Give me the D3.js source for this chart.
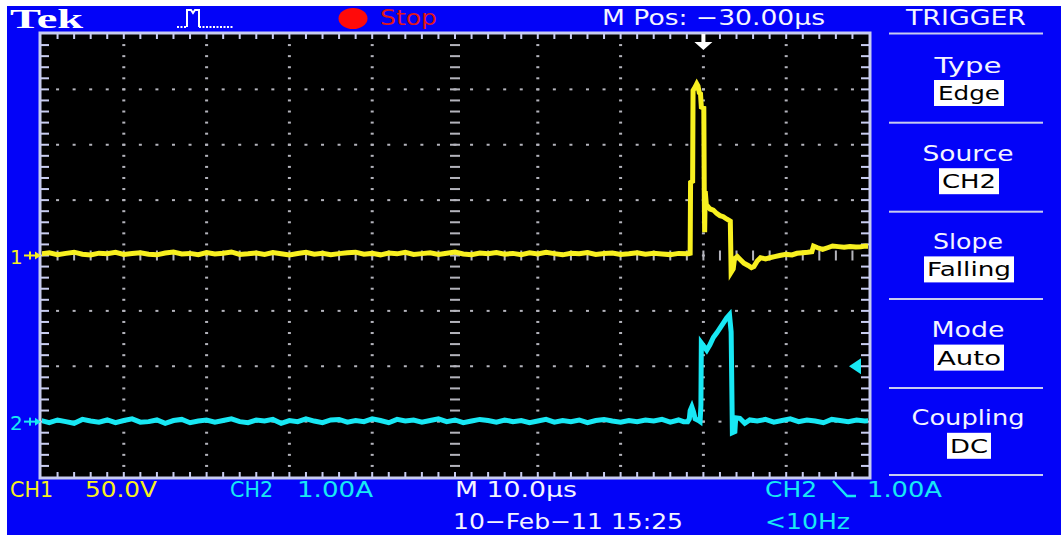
<!DOCTYPE html>
<html><head><meta charset="utf-8">
<script src="https://cdn.jsdelivr.net/npm/d3@7"></script>
<style>html,body{margin:0;padding:0;background:#fff}svg{display:block}</style>
</head><body>
<svg id="scope" width="1061" height="535"></svg>
<script>
// ---------------- DATA ----------------
// time axis (µs, relative to trigger), 10 divisions of 10 µs
const timeDomain = [-80, 20];
const voltsPerDiv = 50;     // CH1
const ampsPerDiv = 1;       // CH2
const ch2OffsetDiv = -3;    // CH2 ground 3 div below centre
const triggerLevelA = 1.0;
const triggerTime = 0;

// CH1 baseline before pulse, sampled every 1 µs from -80 µs (V)
const ch1BaseStart = -80;
const ch1BaseVolts = [1.5,2.4,0.8,1.9,3.0,1.2,0.4,2.1,1.6,2.8,0.9,1.8,2.5,1.1,0.6,2.2,3.1,1.4,1.9,0.7,
  2.6,1.3,2.0,3.2,0.9,1.5,2.3,1.0,2.7,1.6,0.5,1.8,2.9,1.2,2.1,0.8,1.7,2.4,3.0,1.1,
  1.9,0.6,2.2,1.5,2.8,1.0,1.7,2.5,0.9,2.0,3.1,1.4,0.7,2.3,1.6,2.6,1.2,1.9,0.8,2.4,
  1.3,2.9,1.7,0.6,2.1,1.5,2.7,1.0,1.8,2.3,0.9,1.6,2.5,1.2,2.0,1.4,0.8,1.9];
// CH1 pulse and tail (µs, V)
const ch1PulseTimes = [-1.8,-1.6,-1.55,-1.3,-1.25,-1.0,-0.8,-0.65,-0.5,-0.35,-0.25,0.05,0.1,0.15,0.22,0.35,
  0.8,1.2,1.6,2.0,2.4,2.8,3.25,3.35,3.6,3.75,4.1,4.5,4.9,5.4,5.8,6.1,6.5,6.9,7.5,8.0,8.6,9.2,10.0,
  10.7,11.3,12.0,12.6,13.1,13.3,13.8,14.4,15.0,15.6,16.3,17.0,17.7,18.4,19.0,19.6,20.0];
const ch1PulseVolts = [1.6,2.0,66,67,149,152,155,153,147,146,134,133,62,21,58,46,
  42,41,38,36,35,33,31,-15,-12,-3,-1,-4,-7,-9,-11,-10,-5,-2,-3,-2,-1,0,1,
  0.5,2,2.5,3,3.5,8.5,7,5.5,7,8.6,8,7.5,8.2,7.6,8.0,8.5,8.3];

// CH2 baseline before pulse, every 1 µs from -80 µs (A)
const ch2BaseStart = -80;
const ch2BaseAmps = [0.02,-0.02,0.03,0.0,-0.03,0.04,0.01,-0.01,0.03,-0.02,0.02,0.05,-0.01,0.0,0.03,-0.03,0.02,0.04,-0.02,0.01,
  0.03,-0.01,0.02,0.05,0.0,-0.02,0.03,0.01,0.04,-0.03,0.02,0.0,0.05,0.01,-0.02,0.03,0.04,-0.01,0.02,0.0,
  0.05,0.02,-0.02,0.04,0.01,0.03,-0.01,0.02,0.05,0.0,0.03,-0.02,0.01,0.04,0.02,-0.01,0.03,0.0,0.02,-0.02,
  0.01,0.04,-0.01,0.02,0.0,0.03,-0.02,0.02,0.04,0.01,-0.01,0.02,0.0,0.03];
// CH2 pulse and tail (µs, A)
const ch2PulseTimes = [-6,-5,-4,-3,-2.4,-1.9,-1.7,-1.6,-1.4,-1.2,-1.0,-0.6,-0.4,-0.3,-0.25,0.1,0.4,0.8,1.2,1.6,2.0,2.4,2.8,3.15,3.35,3.5,
  3.8,3.9,4.4,5.0,5.6,6.5,7.5,8.5,9.5,10.5,11.5,12.5,13.5,14.5,15.5,16.5,17.5,18.5,19.5,20.0];
const ch2PulseAmps = [0.01,0.04,-0.01,0.03,0.0,0.0,0.05,0.2,0.27,0.18,0.05,0.02,0.0,0.3,1.42,1.35,1.29,1.39,1.52,1.6,1.69,1.78,1.87,1.93,1.62,-0.2,
  -0.18,0.07,0.06,-0.03,0.03,0.01,0.04,-0.01,0.02,0.05,0.0,0.03,0.01,-0.02,0.04,0.02,0.0,0.03,0.01,0.02];

// Text content
const headerTexts = {brand: "Tek", state: "Stop", mpos: "M Pos: \u221230.00\u00b5s", menu: "TRIGGER"};
const menuLabels = ["Type", "Source", "Slope", "Mode", "Coupling"];
const menuValues = ["Edge", "CH2", "Falling", "Auto", "DC"];
const footer1 = ["CH1", "50.0V", "CH2", "1.00A", "M 10.0\u00b5s"];
const footer2 = ["10\u2212Feb\u221211 15:25", "<10Hz"];
const trigReadout = ["CH2", "1.00A"];

// ---------------- LAYOUT ----------------
const svg = d3.select("#scope");
const L = 41, R = 869, T = 34, B = 477;
const xDiv = d3.scaleLinear().domain([0, 10]).range([L, R]);
const yDiv = d3.scaleLinear().domain([0, 8]).range([T, B]);
const x = d3.scaleLinear().domain(timeDomain).range([L, R]);
const y1 = d3.scaleLinear().domain([-4 * voltsPerDiv, 4 * voltsPerDiv]).range([B, T]);
const y2 = d3.scaleLinear().domain([(-4 - ch2OffsetDiv) * ampsPerDiv, (4 - ch2OffsetDiv) * ampsPerDiv]).range([B, T]);

const BLUE = "#0303f8", YEL = "#f8f020", CYA = "#18e8f4", GRID = "#b4b4bc", WHITE = "#f4f4ff", LINE = "#c8ccf0";
const FONT = "DejaVu Sans, Verdana, sans-serif";

svg.append("rect").attr("width", 1061).attr("height", 535).attr("fill", "#fff");
svg.append("rect").attr("x", 7).attr("y", 6).attr("width", 1054).attr("height", 529).attr("fill", BLUE);

// plot area
svg.append("rect").attr("x", L).attr("y", T).attr("width", R - L).attr("height", B - T).attr("fill", "#000");

const g = svg.append("g");
// dotted graticule
for (let i = 1; i < 10; i++) {
  if (i === 5) continue;
  for (let j = 1; j < 40; j++) {
    g.append("rect").attr("x", xDiv(i) - 1.5).attr("y", yDiv(j / 5) - 1).attr("width", 3).attr("height", 2).attr("fill", GRID);
  }
}
for (let j = 1; j < 8; j++) {
  if (j === 4) continue;
  for (let i = 1; i < 50; i++) {
    g.append("rect").attr("x", xDiv(i / 5) - 1.5).attr("y", yDiv(j) - 1).attr("width", 3).attr("height", 2).attr("fill", GRID);
  }
}
// centre axes with ticks
for (let j = 1; j < 40; j++) {
  g.append("rect").attr("x", xDiv(5) - 5).attr("y", yDiv(j / 5) - 1).attr("width", 10).attr("height", 2).attr("fill", GRID);
}
for (let i = 1; i < 50; i++) {
  g.append("rect").attr("x", xDiv(i / 5) - 1).attr("y", yDiv(4) - 5).attr("width", 2).attr("height", 10).attr("fill", GRID);
}
// border ticks
for (let i = 1; i < 50; i++) {
  g.append("rect").attr("x", xDiv(i / 5) - 1).attr("y", T).attr("width", 2).attr("height", 5).attr("fill", LINE);
  g.append("rect").attr("x", xDiv(i / 5) - 1).attr("y", B - 5).attr("width", 2).attr("height", 5).attr("fill", LINE);
}
for (let j = 1; j < 40; j++) {
  g.append("rect").attr("x", L).attr("y", yDiv(j / 5) - 1).attr("width", 8).attr("height", 2).attr("fill", LINE);
  g.append("rect").attr("x", R - 8).attr("y", yDiv(j / 5) - 1).attr("width", 8).attr("height", 2).attr("fill", LINE);
}
svg.append("rect").attr("x", L - 1).attr("y", T - 1).attr("width", R - L + 2).attr("height", B - T + 2)
  .attr("fill", "none").attr("stroke", LINE).attr("stroke-width", 3);

// traces
svg.append("clipPath").attr("id", "clip").append("rect").attr("x", L + 1).attr("y", T + 1).attr("width", R - L - 2).attr("height", B - T - 2);
const ch1Pts = ch1BaseVolts.map((v, i) => [ch1BaseStart + i, v]).concat(ch1PulseTimes.map((t, i) => [t, ch1PulseVolts[i]]));
const ch2Pts = ch2BaseAmps.map((v, i) => [ch2BaseStart + i, v]).concat(ch2PulseTimes.map((t, i) => [t, ch2PulseAmps[i]]));
const line1 = d3.line().x(d => x(d[0])).y(d => y1(d[1]));
const line2 = d3.line().x(d => x(d[0])).y(d => y2(d[1]));
const tr = svg.append("g").attr("clip-path", "url(#clip)");
tr.append("path").attr("d", line2(ch2Pts)).attr("fill", "none").attr("stroke", CYA).attr("stroke-width", 5).attr("stroke-linejoin", "miter");
tr.append("path").attr("d", line1(ch1Pts)).attr("fill", "none").attr("stroke", YEL).attr("stroke-width", 5).attr("stroke-linejoin", "miter");

// trigger position marker (top)
const tx = x(triggerTime);
svg.append("path").attr("d", `M${tx - 2},${T} h4 v8 h7 l-9,8 l-9,-8 h7 z`).attr("fill", "#fff");
// trigger level marker (right)
const ty = y2(triggerLevelA);
svg.append("path").attr("d", `M${R - 20},${ty} l12,-8 v16 z`).attr("fill", CYA);

// ground markers
function gndMarker(label, yy, color) {
  svg.append("text").attr("x", 10).attr("y", yy + 8).attr("fill", color).attr("font-family", FONT).attr("font-size", 20).text(label);
  svg.append("rect").attr("x", 24).attr("y", yy - 1).attr("width", 14).attr("height", 2).attr("fill", color);
  svg.append("rect").attr("x", 29).attr("y", yy - 4).attr("width", 2).attr("height", 8).attr("fill", color);
  svg.append("path").attr("d", `M35,${yy - 4} L41,${yy} L35,${yy + 4} z`).attr("fill", color);
}
gndMarker("1", y1(0), YEL);
gndMarker("2", y2(0), CYA);

// text helper
function txt(xx, yy, s, color, size, len, anchor = "start", fam = FONT, weight = "normal") {
  const t = svg.append("text").attr("x", xx).attr("y", yy).attr("fill", color).attr("font-family", fam)
    .attr("font-size", size).attr("font-weight", weight).attr("text-anchor", anchor).text(s);
  if (len) t.attr("textLength", len).attr("lengthAdjust", "spacingAndGlyphs");
  return t;
}

// header
txt(10, 28, headerTexts.brand, "#fff", 28, 73, "start", "Liberation Serif, serif", "bold");
svg.append("path").attr("d", "M177,27 H187").attr("stroke", "#fff").attr("stroke-width", 2).attr("stroke-dasharray", "2,1.5");
svg.append("path").attr("d", "M187,27 V10 H191 L193,13 L195,10 H199 V27").attr("stroke", "#fff").attr("stroke-width", 2).attr("fill", "none");
svg.append("path").attr("d", "M199,27 H233").attr("stroke", "#fff").attr("stroke-width", 2).attr("stroke-dasharray", "2,1.5");
svg.append("ellipse").attr("cx", 353).attr("cy", 18.5).attr("rx", 14.5).attr("ry", 10.5).attr("fill", "#ff0a0a");
txt(380, 25, headerTexts.state, "#e01818", 21, 57);
txt(602, 25, headerTexts.mpos, WHITE, 21, 223);
txt(966, 25, headerTexts.menu, WHITE, 21, 120, "middle");

// right menu
const sepYs = [33.5, 122.7, 211.7, 299, 388, 475];
sepYs.forEach(sy => svg.append("rect").attr("x", 889).attr("y", sy - 1).attr("width", 154).attr("height", 2).attr("fill", LINE));
const labelLens = [67, 91, 70, 73, 113];
const valueLens = [62, 54, 84, 64, 38];
const boxW = [70, 60, 90, 70, 44];
menuLabels.forEach((lab, k) => {
  const top = 55 + k * 88.2;
  txt(968, top + 17.5, lab, WHITE, 22, labelLens[k], "middle");
  const bx = 969 - boxW[k] / 2;
  svg.append("rect").attr("x", bx).attr("y", top + 25).attr("width", boxW[k]).attr("height", 26).attr("fill", "#fff");
  txt(969, top + 45, menuValues[k], "#000", 20, valueLens[k], "middle");
});

// footer
txt(10, 497, footer1[0], YEL, 22, 43);
txt(85, 497, footer1[1], YEL, 22, 72);
txt(230, 497, footer1[2], CYA, 22, 43);
txt(297, 497, footer1[3], CYA, 22, 76);
txt(455, 497, footer1[4], WHITE, 22, 122);
txt(765, 497, trigReadout[0], CYA, 22, 52);
svg.append("path").attr("d", "M833,481 L847,496 H856").attr("stroke", CYA).attr("stroke-width", 2.5).attr("fill", "none");
txt(867, 497, trigReadout[1], CYA, 22, 75);
txt(453, 529, footer2[0], WHITE, 22, 230);
txt(765, 529, footer2[1], CYA, 22, 85);
</script>
</body></html>
